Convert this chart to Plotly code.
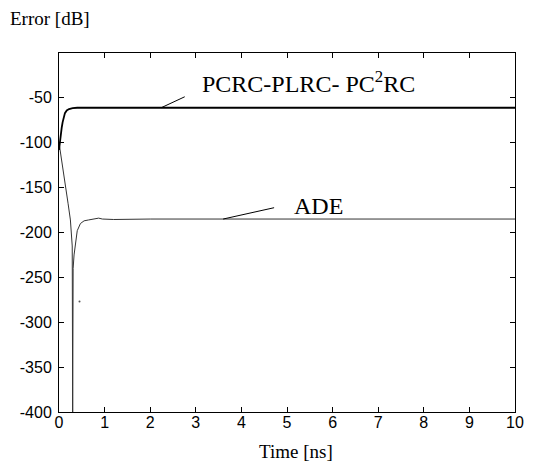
import plotly.graph_objects as go

# PCRC-PLRC-PC2RC error curve (time in ns, error in dB)
t_pcrc = [0, 0.02, 0.04, 0.06, 0.08, 0.1, 0.13, 0.17, 0.22, 0.3, 0.4, 1.0, 10.0]
e_pcrc = [-108, -98, -90, -83, -77, -72, -67, -64, -62.5, -61.5, -61, -61, -61]

# ADE error curve
t_ade = [0, 0.05, 0.1, 0.15, 0.2, 0.25, 0.29, 0.30, 0.305, 0.31, 0.33, 0.36, 0.4, 0.47,
         0.55, 0.65, 0.8, 0.87, 0.95, 1.2, 2.0, 10.0]
e_ade = [-100, -116, -133, -150, -168, -186, -215, -400, -250, -240, -225, -210, -198, -190,
         -187, -186, -184.5, -184, -185, -185.5, -185, -185]

# isolated stray point near the dip
t_dot = [0.45]
e_dot = [-277]

x_ticks = [0, 1, 2, 3, 4, 5, 6, 7, 8, 9, 10]
y_ticks = [-50, -100, -150, -200, -250, -300, -350, -400]

fig = go.Figure()
fig.add_trace(go.Scatter(x=t_ade, y=e_ade, mode="lines",
                         line=dict(color="#333333", width=1), showlegend=False))
fig.add_trace(go.Scatter(x=t_dot, y=e_dot, mode="markers",
                         marker=dict(color="#555555", size=2), showlegend=False))
fig.add_trace(go.Scatter(x=t_pcrc, y=e_pcrc, mode="lines",
                         line=dict(color="black", width=1.8), showlegend=False))

serif = "Liberation Serif, Times New Roman, serif"
sans = "Liberation Sans, Arial, sans-serif"

fig.add_annotation(x=2.24, y=-61, ax=2.79, ay=-48, axref="x", ayref="y",
                   xref="x", yref="y", text="", showarrow=True, arrowhead=0,
                   arrowwidth=1, arrowcolor="black")
fig.add_annotation(x=3.09, y=-32, xref="x", yref="y", xanchor="left", yanchor="middle",
                   text="PCRC-PLRC- PC<sup>2</sup>RC", showarrow=False,
                   font=dict(family=serif, size=24, color="black"))
fig.add_annotation(x=3.6, y=-185, ax=4.75, ay=-172, axref="x", ayref="y",
                   xref="x", yref="y", text="", showarrow=True, arrowhead=0,
                   arrowwidth=1, arrowcolor="black")
fig.add_annotation(x=5.1, y=-170, xref="x", yref="y", xanchor="left", yanchor="middle",
                   text="ADE", showarrow=False,
                   font=dict(family=serif, size=24, color="black"))

fig.add_annotation(x=0, y=1, xref="paper", yref="paper", xshift=-51, yshift=35,
                   xanchor="left", yanchor="middle", text="Error [dB]", showarrow=False,
                   font=dict(family=serif, size=19, color="black"))
fig.add_annotation(x=5.2, y=0, xref="x", yref="paper", yshift=-39,
                   xanchor="center", yanchor="middle", text="Time [ns]", showarrow=False,
                   font=dict(family=serif, size=19, color="black"))

fig.update_layout(
    width=533, height=453,
    margin=dict(l=51, r=26, t=45, b=49),
    paper_bgcolor="white", plot_bgcolor="white",
    font=dict(family=sans, size=16, color="black"),
)
fig.update_xaxes(range=[0, 10], tickvals=x_ticks, ticktext=[str(v) for v in x_ticks],
                 ticks="inside", ticklen=5, tickcolor="black", showline=True,
                 linecolor="black", linewidth=1, mirror="allticks", showgrid=False,
                 zeroline=False, ticklabelstandoff=-4)
fig.update_yaxes(range=[-400, 0], tickvals=y_ticks, ticktext=[str(v) for v in y_ticks],
                 ticks="inside", ticklen=5, tickcolor="black", showline=True,
                 linecolor="black", linewidth=1, mirror="allticks", showgrid=False,
                 zeroline=False, ticklabelstandoff=3)

fig.write_html("out.html")
